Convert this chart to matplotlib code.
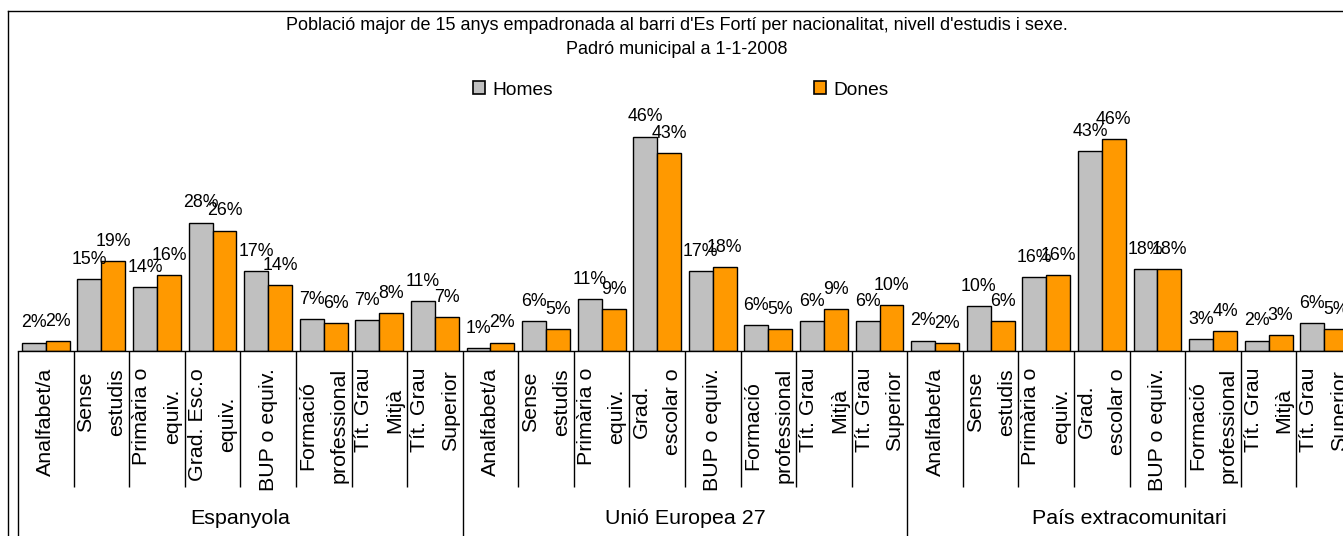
import numpy as np
import matplotlib
matplotlib.use("Agg")
import matplotlib.pyplot as plt
from matplotlib.lines import Line2D
from matplotlib.patches import Patch

plt.rcParams["font.family"] = ["Liberation Sans", "DejaVu Sans"]

# ---- data (percent of each nationality group) ----
groups = ["Espanyola", "Unió Europea 27", "País extracomunitari"]
levels_esp = ["Analfabet/a", "Sense\nestudis", "Primària o\nequiv.", "Grad. Esc.o\nequiv.",
              "BUP o equiv.", "Formació\nprofessional", "Tít. Grau\nMitjà", "Tít. Grau\nSuperior"]
levels_other = ["Analfabet/a", "Sense\nestudis", "Primària o\nequiv.", "Grad.\nescolar o",
                "BUP o equiv.", "Formació\nprofessional", "Tít. Grau\nMitjà", "Tít. Grau\nSuperior"]
homes_esp = [1.8, 15.4, 13.8, 27.6, 17.2, 6.9, 6.6, 10.8]
dones_esp = [2.1, 19.4, 16.3, 25.9, 14.2, 6.0, 8.2, 7.3]
homes_ue = [0.6, 6.4, 11.2, 46.1, 17.2, 5.6, 6.4, 6.4]
dones_ue = [1.8, 4.7, 9.0, 42.6, 18.1, 4.7, 9.0, 9.9]
homes_ext = [2.2, 9.6, 15.9, 43.0, 17.6, 2.6, 2.2, 6.0]
dones_ext = [1.7, 6.4, 16.3, 45.6, 17.6, 4.3, 3.4, 4.7]

title = ("Població major de 15 anys empadronada al barri d'Es Fortí per nacionalitat, "
         "nivell d'estudis i sexe.\nPadró municipal a 1-1-2008")

labels = levels_esp + levels_other + levels_other
homes = np.array(homes_esp + homes_ue + homes_ext)
dones = np.array(dones_esp + dones_ue + dones_ext)
n_per_group = len(levels_esp)
x = np.arange(len(labels))

W, H = 1343, 536
fig = plt.figure(figsize=(W / 100, H / 100), dpi=100)

# plot area runs past the right edge, as in the cropped original
ax_left, ax_right, ax_base, ax_top = 18, 1352, 351, 118.5
ax = fig.add_axes([ax_left / W, 1 - ax_base / H, (ax_right - ax_left) / W, (ax_base - ax_top) / H])
ax_h = ax_base - ax_top

bw = 0.43
c_h, c_d = "#C0C0C0", "#FF9900"
b1 = ax.bar(x - bw / 2, homes, bw, color=c_h, edgecolor="black", linewidth=1.0)
b2 = ax.bar(x + bw / 2, dones, bw, color=c_d, edgecolor="black", linewidth=1.0)

for bars, vals in ((b1, homes), (b2, dones)):
    for r, v in zip(bars, vals):
        ax.annotate(f"{v:.0f}%", (r.get_x() + r.get_width() / 2, v), xytext=(0, 11),
                    textcoords="offset points", ha="center", va="baseline", fontsize=12.8)

ax.set_xlim(-0.5, len(labels) - 0.5)
ax.set_ylim(0, 50)
for s in ("left", "right", "top"):
    ax.spines[s].set_visible(False)
ax.spines["bottom"].set_linewidth(1.0)
ax.set_yticks([])

# category separators (short) and group separators (long) as ticks
group_edges = np.arange(0, len(labels) + 1, n_per_group) - 0.5
cat_edges = [e for e in np.arange(len(labels) + 1) - 0.5 if e not in group_edges]
ax.set_xticks(group_edges)
ax.set_xticks(cat_edges, minor=True)
ax.tick_params(axis="x", which="major", length=200 * 0.72, width=1.0, labelbottom=False)
ax.tick_params(axis="x", which="minor", length=136 * 0.72, width=1.0)

xt = ax.get_xaxis_transform()
for xi, lab in zip(x, labels):
    ax.text(xi, -17 / ax_h, lab, transform=xt, rotation=90, ha="center", va="top",
            multialignment="center", fontsize=15.4, linespacing=1.8)
for gi, g in enumerate(groups):
    gc = gi * n_per_group + (n_per_group - 1) / 2
    ax.text(gc, -(518 - ax_base) / ax_h, g, transform=xt, ha="center", va="center",
            fontsize=15.4)

fig.text(677 / W, 1 - 37.5 / H, title, ha="center", va="center", multialignment="center",
         fontsize=13, linespacing=1.55)

handles = [Patch(facecolor=c_h, edgecolor="black", linewidth=1.2),
           Patch(facecolor=c_d, edgecolor="black", linewidth=1.2)]
fig.legend(handles, ["Homes", "Dones"], ncol=2, loc="center", bbox_to_anchor=(681 / W, 1 - 90 / H),
           frameon=False, fontsize=13.8, handlelength=0.63, handleheight=0.63,
           handletextpad=0.4, columnspacing=13.6)

# outer chart frame (top and left edges visible)
fig.add_artist(Line2D([8 / W, 1.0], [1 - 11 / H, 1 - 11 / H], color="black", linewidth=1.0))
fig.add_artist(Line2D([8 / W, 8 / W], [1 - 11 / H, 0.0], color="black", linewidth=1.0))

fig.savefig("out.png", dpi=100)
